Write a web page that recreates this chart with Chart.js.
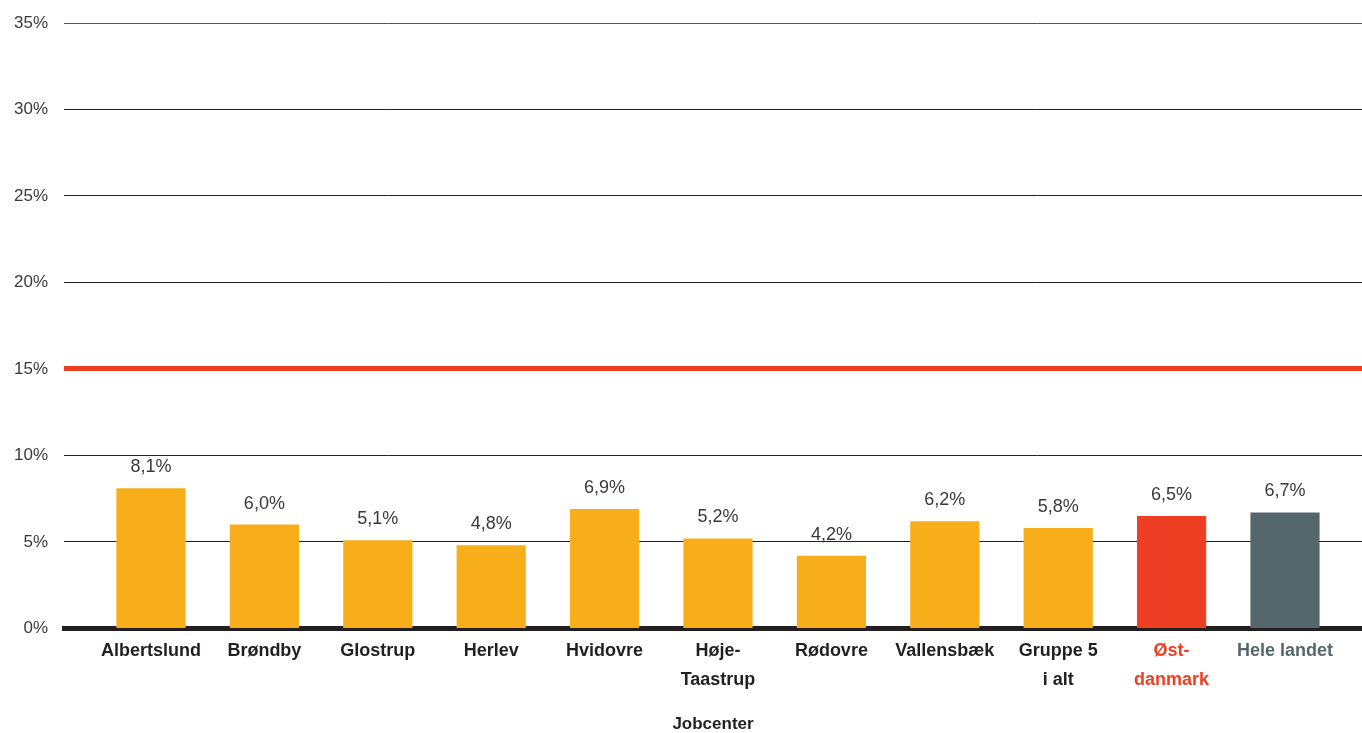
<!DOCTYPE html>
<html>
<head>
<meta charset="utf-8">
<script src="https://cdn.jsdelivr.net/npm/chart.js@4.4.0/dist/chart.umd.min.js"></script>
<style>
  html,body{margin:0;padding:0;background:#fff;}
  #wrap{width:1362px;height:733px;position:relative;}
</style>
</head>
<body>
<div id="wrap"><canvas id="chart"></canvas></div>
<script>
const categories = ['Albertslund','Brøndby','Glostrup','Herlev','Hvidovre',['Høje-','Taastrup'],'Rødovre','Vallensbæk',['Gruppe 5','i alt'],['Øst-','danmark'],'Hele landet'];
const values = [8.1, 6.0, 5.1, 4.8, 6.9, 5.2, 4.2, 6.2, 5.8, 6.5, 6.7];
const yTicks = [0, 5, 10, 15, 20, 25, 30, 35];
const targetLine = 15;

const ORANGE = '#F8AE1A', RED = '#EE3E23', GREY = '#55676B';
const barColors = values.map((v,i)=> i===9 ? RED : i===10 ? GREY : ORANGE);
const labelColors = categories.map((c,i)=> i===9 ? RED : i===10 ? GREY : '#231F20');

const fmt = v => v.toFixed(1).replace('.', ',') + '%';

// value labels above bars
const valueLabels = {
  id:'valueLabels',
  afterDatasetsDraw(chart){
    const ctx = chart.ctx;
    const meta = chart.getDatasetMeta(0);
    ctx.save();
    ctx.font = '18px "Liberation Sans", Arial, sans-serif';
    ctx.fillStyle = '#3a3a3a';
    ctx.textAlign = 'center';
    ctx.textBaseline = 'bottom';
    meta.data.forEach((bar,i)=>{
      ctx.fillText(fmt(values[i]), bar.x, bar.y - 12);
    });
    ctx.restore();
  }
};

new Chart(document.getElementById('chart'), {
  type:'bar',
  data:{
    datasets:[{
      data: values.map((v,i)=>({x:i, y:v})),
      backgroundColor: barColors,
      categoryPercentage: 1,
      barPercentage: 0.61
    }]
  },
  options:{
    responsive:true,
    maintainAspectRatio:false,
    animation:false,
    layout:{padding:{top:23, right:0, bottom:0, left:0}},
    plugins:{legend:{display:false}, tooltip:{enabled:false}},
    scales:{
      x:{
        type:'linear',
        offset:false,
        min:-0.767,
        max:10.679,
        afterBuildTicks: s => { s.ticks = categories.map((c,i)=>({value:i})); },
        grid:{display:false, drawTicks:false},
        border:{display:true, color:'#231F20', width:5},
        ticks:{
          autoSkip:false, maxRotation:0, padding:8,
          callback: v => categories[v],
          color: c => labelColors[c.index],
          font:{family:'"Liberation Sans", Arial, sans-serif', size:18, weight:'bold', lineHeight:1.6}
        },
        title:{
          display:true, text:'Jobcenter', color:'#231F20',
          font:{family:'"Liberation Sans", Arial, sans-serif', size:17, weight:'bold', lineHeight:1},
          padding:{top:14, bottom:0}
        }
      },
      y:{
        min:0, max:35,
        afterBuildTicks: s => { s.ticks = yTicks.map(v=>({value:v})); },
        afterFit: s => { s.width = 64; s.paddingTop = 0; s.paddingBottom = 0; },
        border:{display:false},
        grid:{
          drawTicks:false,
          color: c => c.tick.value===targetLine ? RED : (c.tick.value===35 ? '#555' : '#231F20'),
          lineWidth: c => c.tick.value===targetLine ? 5 : 1
        },
        ticks:{
          padding:16,
          callback: v => v + '%',
          color:'#3a3a3a',
          font:{family:'"Liberation Sans", Arial, sans-serif', size:17}
        }
      }
    }
  },
  plugins:[valueLabels]
});
</script>
</body>
</html>
